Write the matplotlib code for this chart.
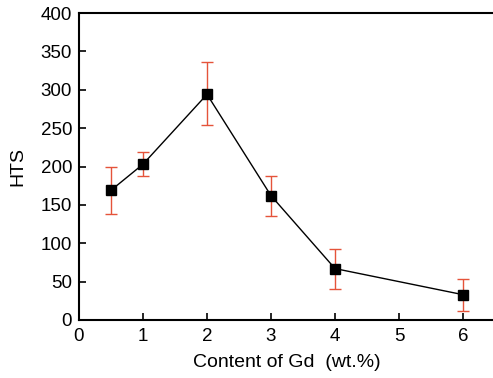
import matplotlib
matplotlib.use("Agg")
import matplotlib.pyplot as plt

# datos
gd_content = [0.5, 1, 2, 3, 4, 6]
hts = [169, 203, 294, 162, 67, 33]
err_low = [31, 16, 40, 27, 26, 21]
err_high = [31, 16, 42, 25, 25, 20]
x_ticks = [0, 1, 2, 3, 4, 5, 6]
y_ticks = [0, 50, 100, 150, 200, 250, 300, 350, 400]

plt.rcParams['font.family'] = ['Liberation Sans', 'DejaVu Sans']

fig = plt.figure(figsize=(4.93, 3.78), dpi=100)
ax = fig.add_axes([79 / 493, 58 / 378, 416 / 493, 307 / 378])

ax.errorbar(gd_content, hts, yerr=[err_low, err_high], fmt='none',
            ecolor='#e5533a', elinewidth=1.0, capsize=4.3, capthick=1.0, zorder=2)
ax.plot(gd_content, hts, color='black', linewidth=1.0, marker='s',
        markersize=7, markerfacecolor='black', markeredgecolor='black', zorder=3)

ax.set_xlim(0, 6.5)
ax.set_ylim(0, 400)
ax.set_xticks(x_ticks)
ax.set_yticks(y_ticks)
ax.tick_params(direction='in', length=5, width=1.2, labelsize=13.5)
ax.tick_params(axis='x', pad=6)
ax.tick_params(axis='y', pad=5)

for side in ['left', 'bottom', 'top', 'right']:
    ax.spines[side].set_linewidth(1.5)

ax.set_xlabel('Content of Gd  (wt.%)', fontsize=14, labelpad=6)
ax.set_ylabel('HTS', fontsize=14, labelpad=10)

fig.savefig('out.png', dpi=100)
